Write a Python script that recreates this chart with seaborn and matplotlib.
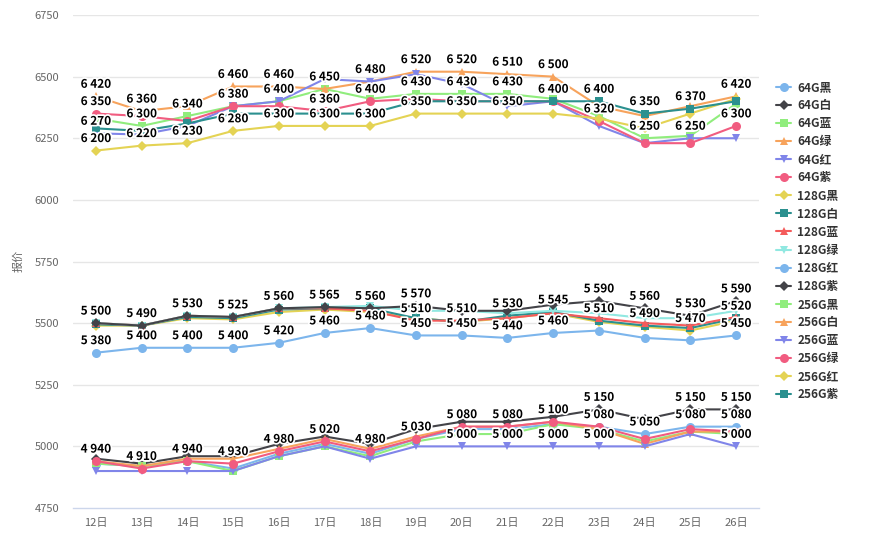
import numpy as np
import pandas as pd
import matplotlib
matplotlib.use("Agg")
import matplotlib.pyplot as plt
import matplotlib.patheffects as pe
from matplotlib.lines import Line2D
import seaborn as sns

# ---------------- data ----------------
days = ["12日", "13日", "14日", "15日", "16日", "17日", "18日", "19日",
        "20日", "21日", "22日", "23日", "24日", "25日", "26日"]

series_names = ["64G黑", "64G白", "64G蓝", "64G绿", "64G红", "64G紫",
                "128G黑", "128G白", "128G蓝", "128G绿", "128G红", "128G紫",
                "256G黑", "256G白", "256G蓝", "256G绿", "256G红", "256G紫"]

v_64_black  = [4930, 4920, 4940, 4910, 4970, 5010, 4970, 5030, 5070, 5070, 5090, 5080, 5050, 5080, 5080]
v_64_white  = [4950, 4930, 4960, 4960, 5010, 5040, 5010, 5070, 5100, 5100, 5120, 5150, 5110, 5150, 5150]
v_64_blue   = [4930, 4920, 4940, 4900, 4960, 5000, 4960, 5020, 5050, 5050, 5090, 5070, 5020, 5060, 5050]
v_64_green  = [4940, 4920, 4950, 4950, 4990, 5030, 4990, 5040, 5080, 5080, 5100, 5070, 5010, 5060, 5060]
v_64_red    = [4900, 4900, 4900, 4900, 4960, 5000, 4950, 5000, 5000, 5000, 5000, 5000, 5000, 5050, 5000]
v_64_purple = [4940, 4910, 4940, 4930, 4980, 5020, 4980, 5030, 5080, 5080, 5100, 5080, 5030, 5070, 5060]

v_128_black  = [5490, 5490, 5520, 5515, 5545, 5555, 5545, 5520, 5505, 5520, 5540, 5505, 5485, 5470, 5510]
v_128_white  = [5495, 5490, 5525, 5520, 5555, 5560, 5560, 5520, 5505, 5530, 5545, 5510, 5490, 5480, 5520]
v_128_blue   = [5500, 5490, 5530, 5525, 5560, 5560, 5550, 5510, 5510, 5520, 5540, 5520, 5500, 5490, 5525]
v_128_green  = [5500, 5490, 5530, 5525, 5560, 5565, 5570, 5550, 5550, 5540, 5550, 5540, 5520, 5520, 5550]
v_128_red    = [5380, 5400, 5400, 5400, 5420, 5460, 5480, 5450, 5450, 5440, 5460, 5470, 5440, 5430, 5450]
v_128_purple = [5500, 5490, 5530, 5525, 5560, 5565, 5560, 5570, 5550, 5550, 5575, 5590, 5560, 5530, 5590]

v_256_black  = [6330, 6300, 6340, 6380, 6400, 6450, 6410, 6430, 6430, 6430, 6410, 6340, 6250, 6260, 6390]
v_256_white  = [6420, 6360, 6380, 6460, 6460, 6450, 6480, 6520, 6520, 6510, 6500, 6380, 6340, 6380, 6420]
v_256_blue   = [6270, 6265, 6300, 6380, 6400, 6490, 6480, 6510, 6470, 6380, 6400, 6300, 6230, 6250, 6250]
v_256_green  = [6350, 6340, 6320, 6380, 6380, 6360, 6400, 6410, 6400, 6400, 6400, 6320, 6230, 6230, 6300]
v_256_red    = [6200, 6220, 6230, 6280, 6300, 6300, 6300, 6350, 6350, 6350, 6350, 6330, 6290, 6350, 6410]
v_256_purple = [6290, 6280, 6310, 6350, 6350, 6350, 6350, 6400, 6400, 6400, 6400, 6400, 6350, 6370, 6400]

series_values = [v_64_black, v_64_white, v_64_blue, v_64_green, v_64_red, v_64_purple,
                 v_128_black, v_128_white, v_128_blue, v_128_green, v_128_red, v_128_purple,
                 v_256_black, v_256_white, v_256_blue, v_256_green, v_256_red, v_256_purple]

# indices of points whose data label is visible in the chart
labels_64_black   = [12, 13, 14]
labels_64_white   = [11, 13, 14]
labels_64_red     = [8, 9, 10, 11, 14]
labels_64_purple  = [0, 1, 2, 3, 4, 5, 6, 7, 8, 9, 10, 11]
labels_128_black  = [13]
labels_128_white  = [9, 10, 11, 12, 14]
labels_128_blue   = [7, 8]
labels_128_red    = [0, 1, 2, 3, 4, 5, 6, 7, 8, 9, 10, 14]
labels_128_purple = [0, 1, 2, 3, 4, 5, 6, 7, 11, 12, 13, 14]
labels_256_black  = [1, 2, 7, 8, 9, 12]
labels_256_white  = [0, 1, 3, 4, 5, 7, 8, 9, 10, 14]
labels_256_blue   = [0, 4, 6, 13]
labels_256_green  = [0, 3, 5, 6, 11, 14]
labels_256_red    = [0, 1, 2, 3, 4, 5, 6, 7, 8, 9]
labels_256_purple = [10, 11, 12, 13]

label_map = {
    "64G黑": labels_64_black, "64G白": labels_64_white, "64G红": labels_64_red,
    "64G紫": labels_64_purple, "128G黑": labels_128_black, "128G白": labels_128_white,
    "128G蓝": labels_128_blue, "128G红": labels_128_red, "128G紫": labels_128_purple,
    "256G黑": labels_256_black, "256G白": labels_256_white, "256G蓝": labels_256_blue,
    "256G绿": labels_256_green, "256G红": labels_256_red, "256G紫": labels_256_purple,
}

y_ticks = [4750, 5000, 5250, 5500, 5750, 6000, 6250, 6500, 6750]

# ---------------- style ----------------
base_colors = ["#7cb5ec", "#434348", "#90ed7d", "#f7a35c", "#8085e9",
               "#f15c80", "#e4d354", "#2b908f", "#f45b5b", "#91e8e1"]
base_markers = ["o", "D", "s", "^", "v"]
marker_sizes = {"o": 6.5, "D": 4.8, "s": 5.8, "^": 6.3, "v": 6.3}
palette = {n: base_colors[i % len(base_colors)] for i, n in enumerate(series_names)}
markers = {n: base_markers[i % len(base_markers)] for i, n in enumerate(series_names)}

rows = []
for name, vals in zip(series_names, series_values):
    for i, v in enumerate(vals):
        rows.append({"series": name, "x": i, "price": v})
df = pd.DataFrame(rows)

sns.set_theme(style="white")
plt.rcParams['font.family'] = ['Noto Sans CJK SC', 'DejaVu Sans']

W, H = 881, 558
fig = plt.figure(figsize=(W / 100, H / 100), dpi=100)
ax = fig.add_axes([73 / W, 1 - 508 / H, (759 - 73) / W, (508 - 15) / H])

for yv in y_ticks[1:]:
    ax.axhline(yv, color="#e6e6e6", lw=1, zorder=0)

sns.lineplot(data=df, x="x", y="price", hue="series", style="series",
             hue_order=series_names, style_order=series_names,
             palette=palette, markers=markers, dashes=False,
             markersize=6, markeredgewidth=0, linewidth=1.5, ax=ax,
             legend=False, sort=False)

for ln in ax.lines:
    m = ln.get_marker()
    if m in marker_sizes:
        ln.set_markersize(marker_sizes[m])

ax.set_xlim(-0.5, len(days) - 0.5)
ax.set_ylim(4750, 6750)
ax.set_yticks(y_ticks)
ax.set_yticklabels([str(t) for t in y_ticks])
ax.set_xticks(range(len(days)))
ax.set_xticklabels(days)
ax.set_xticks(np.arange(-0.5, len(days), 1.0), minor=True)
ax.tick_params(axis="x", which="major", length=0, pad=7, labelsize=8, colors="#666666")
ax.tick_params(axis="x", which="minor", length=8, width=1, color="#ccd6eb", direction="out")
ax.tick_params(axis="y", length=0, pad=10, labelsize=8, colors="#666666")
ax.set_xlabel("")
ax.set_ylabel("")
for s in ["left", "top", "right"]:
    ax.spines[s].set_visible(False)
ax.spines["bottom"].set_color("#ccd6eb")
ax.spines["bottom"].set_linewidth(1)

# data labels
for name, vals in zip(series_names, series_values):
    for i in label_map.get(name, []):
        v = vals[i]
        ax.annotate(f"{v:,}".replace(",", " "), (i, v), xytext=(0, 4),
                    textcoords="offset points", ha="center", va="bottom",
                    fontsize=8.5, fontweight="bold", color="black", zorder=10,
                    path_effects=[pe.withStroke(linewidth=2.5, foreground="white")])

fig.text(18 / W, 1 - 261 / H, "报价", rotation=90, ha="center", va="center",
         color="#666666", fontsize=8)

handles = [Line2D([0], [0], color=palette[n], marker=markers[n],
                  markersize=marker_sizes[markers[n]],
                  markeredgewidth=0, lw=1.5) for n in series_names]
leg = fig.legend(handles, series_names, loc="upper left",
                 bbox_to_anchor=(776 / W, 1 - 81 / H), frameon=False,
                 fontsize=8.5, labelspacing=0.43, handlelength=1.3,
                 handletextpad=0.5, borderpad=0, borderaxespad=0)
for t in leg.get_texts():
    t.set_color("#333333")
    t.set_fontweight("bold")

fig.savefig("out.png", dpi=100)
